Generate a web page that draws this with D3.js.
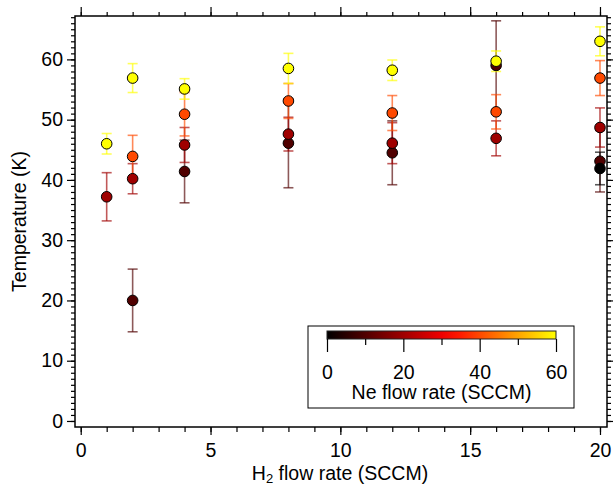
<!DOCTYPE html>
<html>
<head>
<meta charset="utf-8">
<script src="https://cdn.jsdelivr.net/npm/d3@7"></script>
<style>
  body { margin: 0; background: #fff; }
  svg { font-family: "Liberation Sans", Arial, sans-serif; }
  .tick text { font-size: 19.5px; fill: #000; }
  .domain { display: none; }
  .tick line { stroke: #000; stroke-width: 1.2; }
</style>
</head>
<body>
<svg width="613" height="487"></svg>
<script>
// Ne flow rate levels (SCCM) and H2 flow rates / temperatures (K) / errors
var h2_ne10 = [2, 4, 8, 12, 16, 20];
var t_ne10 = [20.0, 41.4, 46.1, 44.5, 59.0, 43.1];
var e_ne10 = [5.2, 5.2, 7.4, 5.3, 7.4, 5.1];

var h2_ne20 = [1, 2, 4, 8, 12, 16, 20];
var t_ne20 = [37.2, 40.2, 45.8, 47.6, 46.1, 46.9, 48.7];
var e_ne20 = [4.0, 2.5, 2.9, 2.8, 3.4, 2.9, 3.25];

var h2_ne40 = [2, 4, 8, 12, 16, 20];
var t_ne40 = [43.9, 50.9, 53.1, 51.1, 51.3, 56.9];
var e_ne40 = [3.5, 3.6, 2.9, 2.9, 2.85, 2.9];

var h2_ne60 = [1, 2, 4, 8, 12, 16, 20];
var t_ne60 = [46.0, 56.9, 55.1, 58.5, 58.2, 59.7, 63.0];
var e_ne60 = [1.7, 2.4, 1.7, 2.5, 1.7, 1.7, 2.4];

var h2_ne0 = [20];
var t_ne0 = [41.9];
var e_ne0 = [2.7];

var x_ticks = [0, 5, 10, 15, 20];
var y_ticks = [0, 10, 20, 30, 40, 50, 60];
var cbar_ticks = [0, 20, 40, 60];

var series = [
    { ne: 10, h2: h2_ne10, t: t_ne10, e: e_ne10 },
    { ne: 20, h2: h2_ne20, t: t_ne20, e: e_ne20 },
    { ne: 40, h2: h2_ne40, t: t_ne40, e: e_ne40 },
    { ne: 60, h2: h2_ne60, t: t_ne60, e: e_ne60 },
    { ne: 0, h2: h2_ne0, t: t_ne0, e: e_ne0 }
];

// flatten into points
var points = [];
series.forEach(function (s) {
    s.h2.forEach(function (h, i) {
        points.push({ ne: s.ne, h2: h, t: s.t[i], e: s.e[i] });
    });
});

var svg = d3.select("svg");

var plot_left = 75, plot_right = 607, plot_top = 16, plot_bottom = 427;

var x_scale = d3.scaleLinear().domain([-0.22, 20.27]).range([plot_left, plot_right]);
var y_scale = d3.scaleLinear().domain([-1, 67.2]).range([plot_bottom, plot_top]);

// black -> red -> yellow colour table
var color = d3.scaleLinear()
    .domain([0, 32, 60])
    .range(["#000000", "#ff0000", "#ffff00"]);

// minor / major ticks on all four sides
var x_minor = d3.range(0, 21, 1);
var y_minor = d3.range(0, 68, 1);

function add_axis(axis, transform) {
    svg.append("g").attr("transform", transform).call(axis);
}

add_axis(d3.axisBottom(x_scale).tickValues(x_minor).tickSize(5).tickFormat(""), "translate(0," + plot_bottom + ")");
add_axis(d3.axisBottom(x_scale).tickValues(x_ticks).tickSize(8).tickPadding(8).tickFormat(d3.format("d")), "translate(0," + plot_bottom + ")");
add_axis(d3.axisTop(x_scale).tickValues(x_minor).tickSize(4).tickFormat(""), "translate(0," + plot_top + ")");
add_axis(d3.axisTop(x_scale).tickValues(x_ticks).tickSize(9).tickFormat(""), "translate(0," + plot_top + ")");

add_axis(d3.axisLeft(y_scale).tickValues(y_minor).tickSize(4).tickFormat(""), "translate(" + plot_left + ",0)");
add_axis(d3.axisLeft(y_scale).tickValues(y_ticks).tickSize(8).tickPadding(4).tickFormat(d3.format("d")), "translate(" + plot_left + ",0)");
add_axis(d3.axisRight(y_scale).tickValues(y_minor).tickSize(4).tickFormat(""), "translate(" + plot_right + ",0)");
add_axis(d3.axisRight(y_scale).tickValues(y_ticks).tickSize(8).tickFormat(""), "translate(" + plot_right + ",0)");

// frame
svg.append("rect")
    .attr("x", plot_left).attr("y", plot_top)
    .attr("width", plot_right - plot_left).attr("height", plot_bottom - plot_top)
    .attr("fill", "none").attr("stroke", "#000").attr("stroke-width", 1.5);

// error bars
var bars = svg.append("g")
    .selectAll("g")
    .data(points)
    .enter()
    .append("g")
    .attr("stroke", function (d) { return color(d.ne); })
    .attr("stroke-opacity", 0.65)
    .attr("stroke-width", 1.6);

bars.append("line")
    .attr("x1", function (d) { return x_scale(d.h2); })
    .attr("x2", function (d) { return x_scale(d.h2); })
    .attr("y1", function (d) { return y_scale(d.t + d.e); })
    .attr("y2", function (d) { return y_scale(d.t - d.e); });

[1, -1].forEach(function (sgn) {
    bars.append("line")
        .attr("x1", function (d) { return x_scale(d.h2) - 5; })
        .attr("x2", function (d) { return x_scale(d.h2) + 5; })
        .attr("y1", function (d) { return y_scale(d.t + sgn * d.e); })
        .attr("y2", function (d) { return y_scale(d.t + sgn * d.e); });
});

// markers
svg.append("g")
    .selectAll("circle")
    .data(points)
    .enter()
    .append("circle")
    .attr("cx", function (d) { return x_scale(d.h2); })
    .attr("cy", function (d) { return y_scale(d.t); })
    .attr("r", 5.3)
    .attr("fill", function (d) { return color(d.ne); })
    .attr("stroke", "#000")
    .attr("stroke-width", 1);

// axis titles
var xlab = svg.append("text")
    .attr("x", 340).attr("y", 480)
    .attr("text-anchor", "middle")
    .style("font-size", "19.5px");
xlab.append("tspan").text("H");
xlab.append("tspan").attr("dy", 3).style("font-size", "13px").text("2");
xlab.append("tspan").attr("dy", -3).text(" flow rate (SCCM)");

svg.append("text")
    .attr("transform", "translate(26," + ((plot_top + plot_bottom) / 2) + ") rotate(-90)")
    .attr("text-anchor", "middle")
    .style("font-size", "19.5px")
    .text("Temperature (K)");

// colour bar legend
var legend = svg.append("g");
legend.append("rect")
    .attr("x", 308).attr("y", 326)
    .attr("width", 266).attr("height", 82)
    .attr("fill", "#fff").attr("stroke", "#000").attr("stroke-width", 1);

var grad = svg.append("defs").append("linearGradient")
    .attr("id", "hot").attr("x1", "0%").attr("x2", "100%");
grad.selectAll("stop")
    .data(d3.range(0, 61, 5))
    .enter()
    .append("stop")
    .attr("offset", function (d) { return (d / 60 * 100) + "%"; })
    .attr("stop-color", function (d) { return color(d); });

var cbar_scale = d3.scaleLinear().domain([0, 60]).range([327, 556]);

legend.append("rect")
    .attr("x", 327).attr("y", 331)
    .attr("width", 229).attr("height", 8)
    .attr("fill", "url(#hot)").attr("stroke", "#222").attr("stroke-width", 1);

legend.append("g").attr("transform", "translate(0,339)")
    .call(d3.axisBottom(cbar_scale).tickValues([10, 30, 50]).tickSize(6).tickFormat(""));
legend.append("g").attr("transform", "translate(0,339)")
    .call(d3.axisBottom(cbar_scale).tickValues(cbar_ticks).tickSize(13).tickPadding(13).tickFormat(d3.format("d")));

legend.append("text")
    .attr("x", (327 + 556) / 2).attr("y", 399)
    .attr("text-anchor", "middle")
    .style("font-size", "19.5px")
    .text("Ne flow rate (SCCM)");
</script>
</body>
</html>
